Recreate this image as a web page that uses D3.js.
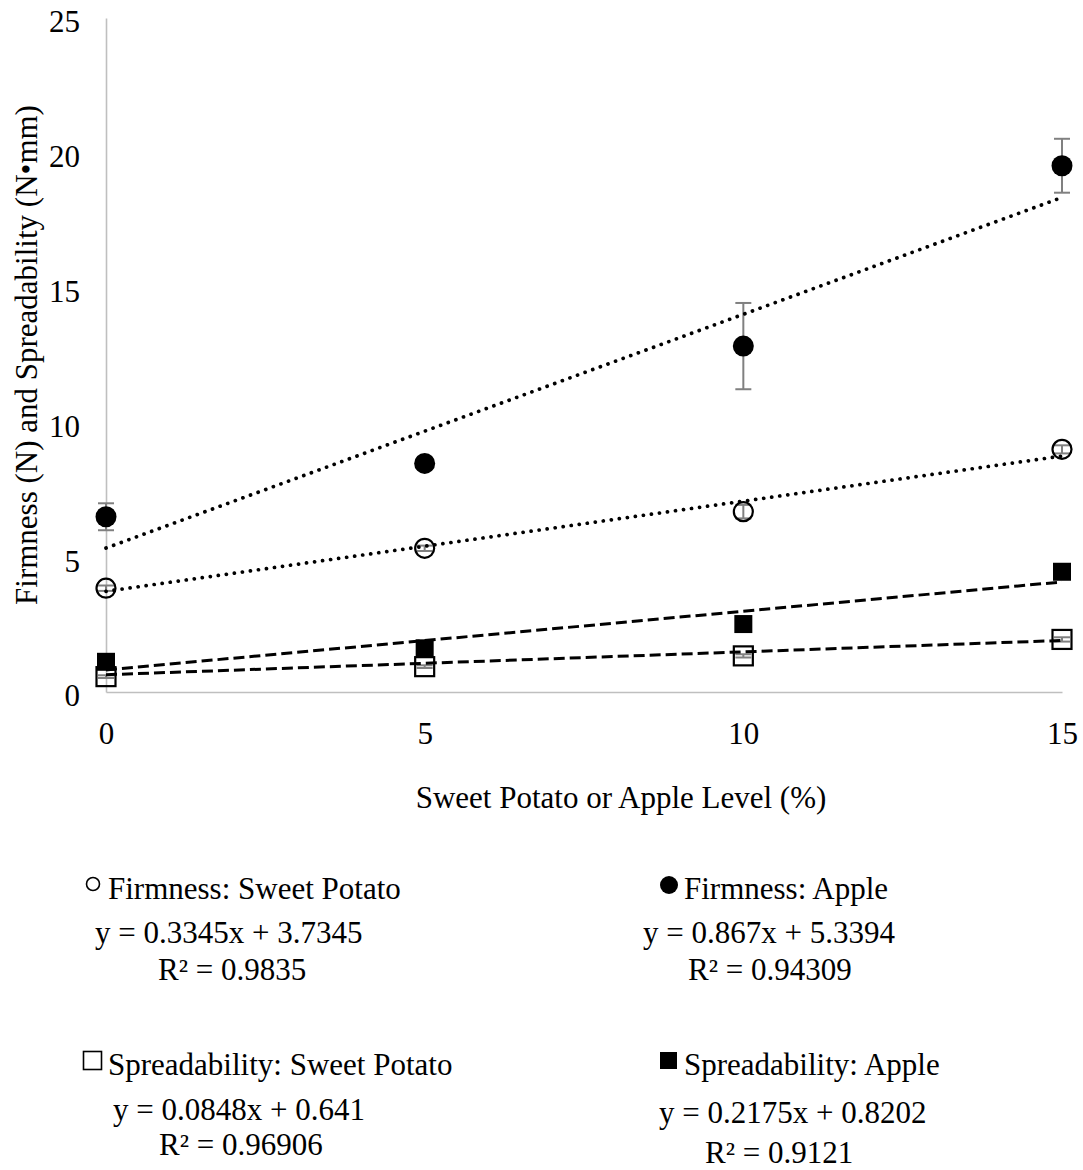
<!DOCTYPE html>
<html>
<head>
<meta charset="utf-8">
<script src="https://cdn.jsdelivr.net/npm/d3@7"></script>
<style>
  html, body { margin: 0; padding: 0; background: #fff; }
  svg { display: block; }
  text { font-family: "Liberation Serif", "Times New Roman", serif; fill: #000; }
</style>
</head>
<body>
<svg id="chart" width="1083" height="1170"></svg>
<script>
// ---- data ----
const xLevels = [0, 5, 10, 15];
const yTicks = [0, 5, 10, 15, 20, 25];
const xTicks = [0, 5, 10, 15];

const firmSP = [3.85, 5.33, 6.69, 9.0];
const firmSPErr = [0.1, 0.1, 0.25, 0.15];
const firmApple = [6.5, 8.48, 12.83, 19.52];
const firmAppleErr = [0.5, 0.2, 1.6, 1.0];
const spreadSP = [0.57, 0.94, 1.34, 1.95];
const spreadSPErr = [0.05, 0.05, 0.06, 0.08];
const spreadApple = [1.12, 1.62, 2.52, 4.46];
const spreadAppleErr = [0.1, 0.1, 0.12, 0.1];

const seriesNames = ["Firmness: Sweet Potato", "Firmness: Apple", "Spreadability: Sweet Potato", "Spreadability: Apple"];
const slopes = [0.3345, 0.867, 0.0848, 0.2175];
const intercepts = [3.7345, 5.3394, 0.641, 0.8202];
const eqLabels = ["y = 0.3345x + 3.7345", "y = 0.867x + 5.3394", "y = 0.0848x + 0.641", "y = 0.2175x + 0.8202"];
const r2Labels = ["R² = 0.9835", "R² = 0.94309", "R² = 0.96906", "R² = 0.9121"];

const xTitle = "Sweet Potato or Apple Level (%)";
const yTitle = "Firmness (N) and Spreadability (N•mm)";

// ---- layout ----
const svg = d3.select("#chart");
const FS = 31;
const x = d3.scaleLinear().domain([0, 15]).range([106, 1062]);
const y = d3.scaleLinear().domain([0, 25]).range([692, 18]);

const axisColor = "#bfbfbf";
const yAxis = d3.axisLeft(y).tickValues(yTicks).tickSize(0).tickPadding(26);
const gy = svg.append("g").attr("transform", `translate(${x(0)},0)`).call(yAxis);
gy.attr("font-family", null);
gy.select(".domain").attr("stroke", axisColor).attr("stroke-width", 1.6);
gy.selectAll("text").attr("font-size", FS).attr("font-family", "Liberation Serif").attr("dy", "0.45em").attr("fill", "#000");

const xAxis = d3.axisBottom(x).tickValues(xTicks).tickSize(0).tickPadding(30);
const gx = svg.append("g").attr("transform", `translate(0,${y(0)})`).call(xAxis);
gx.attr("font-family", null);
gx.select(".domain").attr("stroke", axisColor).attr("stroke-width", 1.6);
gx.selectAll("text").attr("font-size", FS).attr("font-family", "Liberation Serif").attr("fill", "#000");

// titles
svg.append("text").attr("x", 621).attr("y", 808).attr("text-anchor", "middle")
  .attr("font-size", FS).text(xTitle);
svg.append("text").attr("transform", "translate(37,355) rotate(-90)").attr("text-anchor", "middle")
  .attr("font-size", FS).text(yTitle);

// ---- series ----
const series = [
  { vals: firmSP, err: firmSPErr, shape: "circle", filled: false, dash: "dot" },
  { vals: firmApple, err: firmAppleErr, shape: "circle", filled: true, dash: "dot" },
  { vals: spreadSP, err: spreadSPErr, shape: "square", filled: false, dash: "dash" },
  { vals: spreadApple, err: spreadAppleErr, shape: "square", filled: true, dash: "dash" }
];

const plot = svg.append("g");

function drawMarker(g, cx, cy, shape, filled, big) {
  if (shape === "circle") {
    const r = big ? (filled ? 10.5 : 9.5) : (filled ? 9 : 6.5);
    g.append("circle").attr("cx", cx).attr("cy", cy).attr("r", r)
      .attr("fill", filled ? "#000" : "none")
      .attr("stroke", "#000").attr("stroke-width", filled ? 0 : (big ? 2.2 : 1.6));
  } else {
    const s = big ? (filled ? 18 : 19) : (filled ? 17 : 18);
    g.append("rect").attr("x", cx - s / 2).attr("y", cy - s / 2).attr("width", s).attr("height", s)
      .attr("fill", filled ? "#000" : "none")
      .attr("stroke", "#000").attr("stroke-width", filled ? 0 : (big ? 2.2 : 1.6));
  }
}

// error bars (behind markers)
series.forEach(s => {
  const g = plot.append("g").attr("stroke", "#808080").attr("stroke-width", 2);
  xLevels.forEach((xv, i) => {
    const cx = x(xv), top = y(s.vals[i] + s.err[i]), bot = y(s.vals[i] - s.err[i]);
    g.append("line").attr("x1", cx).attr("x2", cx).attr("y1", top).attr("y2", bot);
    g.append("line").attr("x1", cx - 8).attr("x2", cx + 8).attr("y1", top).attr("y2", top);
    g.append("line").attr("x1", cx - 8).attr("x2", cx + 8).attr("y1", bot).attr("y2", bot);
  });
});

// markers
series.forEach(s => {
  const g = plot.append("g");
  xLevels.forEach((xv, i) => drawMarker(g, x(xv), y(s.vals[i]), s.shape, s.filled, true));
});

// trend lines
series.forEach((s, k) => {
  const line = plot.append("line")
    .attr("x1", x(0)).attr("y1", y(intercepts[k]))
    .attr("x2", x(15)).attr("y2", y(intercepts[k] + slopes[k] * 15))
    .attr("stroke", "#000");
  if (s.dash === "dot") {
    line.attr("stroke-width", 3.7).attr("stroke-linecap", "round").attr("stroke-dasharray", "0.1 8");
  } else {
    line.attr("stroke-width", 3).attr("stroke-dasharray", "11 5");
  }
});

// ---- legend ----
const legend = [
  { mx: 93, my: 884, tx: 108, ty: 899, ex: 95, ey: 943, rx: 158, ry: 980 },
  { mx: 669, my: 885, tx: 684, ty: 899, ex: 643, ey: 943, rx: 688, ry: 980 },
  { mx: 92.5, my: 1060.5, tx: 108, ty: 1075, ex: 113, ey: 1120, rx: 159, ry: 1155 },
  { mx: 668.5, my: 1060.5, tx: 684, ty: 1075, ex: 659, ey: 1123, rx: 705, ry: 1163 }
];
const lg = svg.append("g");
legend.forEach((p, k) => {
  const s = series[k];
  drawMarker(lg, p.mx, p.my, s.shape, s.filled, false);
  lg.append("text").attr("x", p.tx).attr("y", p.ty).attr("font-size", FS).text(seriesNames[k]);
  lg.append("text").attr("x", p.ex).attr("y", p.ey).attr("font-size", FS).text(eqLabels[k]);
  lg.append("text").attr("x", p.rx).attr("y", p.ry).attr("font-size", FS).text(r2Labels[k]);
});
</script>
</body>
</html>
